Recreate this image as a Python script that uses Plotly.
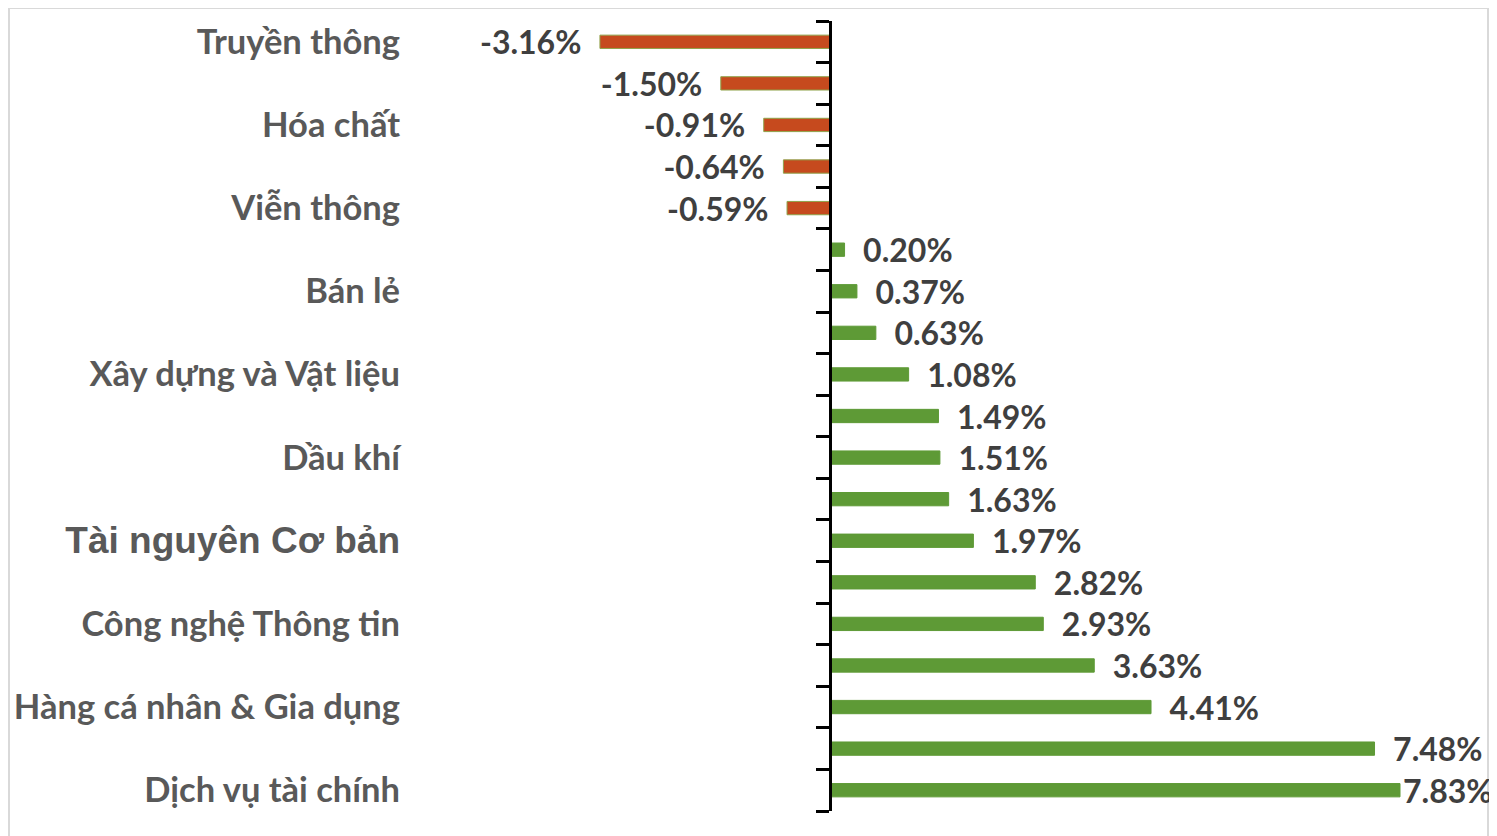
import plotly.graph_objects as go

categories = [
    "Truyền thông", "Du lịch và Giải trí", "Hóa chất", "Y tế", "Viễn thông",
    "Tiện ích", "Bán lẻ", "Thực phẩm và đồ uống", "Xây dựng và Vật liệu",
    "Ô tô và phụ tùng", "Dầu khí", "Bảo hiểm", "Tài nguyên Cơ bản",
    "Hàng & Dịch vụ Công nghiệp", "Công nghệ Thông tin", "Ngân hàng",
    "Hàng cá nhân & Gia dụng", "Bất động sản", "Dịch vụ tài chính",
]
values = [-3.16, -1.50, -0.91, -0.64, -0.59, 0.20, 0.37, 0.63, 1.08, 1.49,
          1.51, 1.63, 1.97, 2.82, 2.93, 3.63, 4.41, 7.48, 7.83]
shown_labels = [
    "Truyền thông", "Hóa chất", "Viễn thông", "Bán lẻ", "Xây dựng và Vật liệu",
    "Dầu khí", "Tài nguyên Cơ bản", "Công nghệ Thông tin",
    "Hàng cá nhân & Gia dụng", "Dịch vụ tài chính",
]

W, H = 1489, 828
L, R, T, B = 405, 10, 13, 25
xr = [-5.728, 9.025]

POS = "#5E9A36"
NEG = "#C64A1E"
NB = "\u00a0\u00a0"
colors = [NEG if v < 0 else POS for v in values]
line_colors = ["#8FA24A" if v < 0 else POS for v in values]
texts = [(f"{v:.2f}%" + NB) if v < 0 else (NB + f"{v:.2f}%") for v in values]
texts[-1] = f"{values[-1]:.2f}%"

def ticklabel(name):
    if name == "Tài nguyên Cơ bản":
        return ('<span style="font-family:Liberation Sans, Arial;font-size:37px">'
                f"<b>{name}</b></span>")
    return f"<b>{name}</b>"

fig = go.Figure()
fig.add_trace(go.Bar(
    y=categories, x=values, orientation="h",
    marker=dict(color=colors, line=dict(color=line_colors, width=1)),
    text=texts, textposition="outside", cliponaxis=False, constraintext="none",
    textfont=dict(family="Lato", size=32, color="#3F3F3F", weight="bold"),
    hoverinfo="skip", showlegend=False,
))
# invisible helper trace for the zero axis
fig.add_trace(go.Scatter(x=[0], y=[0], yaxis="y2", mode="none",
                         hoverinfo="skip", showlegend=False))

zero_pos = (0 - xr[0]) / (xr[1] - xr[0])
pw = W - L - R
ph = H - T - B

fig.update_layout(
    width=W, height=H,
    margin=dict(l=L, r=R, t=T, b=B, autoexpand=False),
    paper_bgcolor="white", plot_bgcolor="white",
    bargap=0.68,
    xaxis=dict(range=xr, showgrid=False, zeroline=False, showline=False,
               showticklabels=False, ticks="", automargin=False),
    yaxis=dict(type="category", categoryorder="array", categoryarray=categories,
               autorange="reversed", showgrid=False, zeroline=False, showline=False,
               tickmode="array", tickvals=shown_labels,
               ticktext=[ticklabel(n) for n in shown_labels],
               tickfont=dict(family="Lato", size=34.5, color="#595959"),
               ticks="", ticklabelstandoff=12, automargin=False),
    yaxis2=dict(overlaying="y", anchor="free", position=zero_pos,
                range=[len(categories) - 0.5, -0.5], tickmode="linear",
                tick0=-0.5, dtick=1, ticks="outside", ticklen=13, tickwidth=2.5,
                tickcolor="black", showline=True, linecolor="black", linewidth=2.5,
                showticklabels=False, showgrid=False, zeroline=False,
                automargin=False),
    shapes=[dict(type="rect", xref="paper", yref="paper",
                 x0=(1 - L) / pw, x1=(1480 - L) / pw,
                 y0=(H - B - 840) / ph, y1=(H - B - 0) / ph,
                 line=dict(color="#D9D9D9", width=2), fillcolor="rgba(0,0,0,0)",
                 layer="below")],
)

fig.write_html("out.html")
